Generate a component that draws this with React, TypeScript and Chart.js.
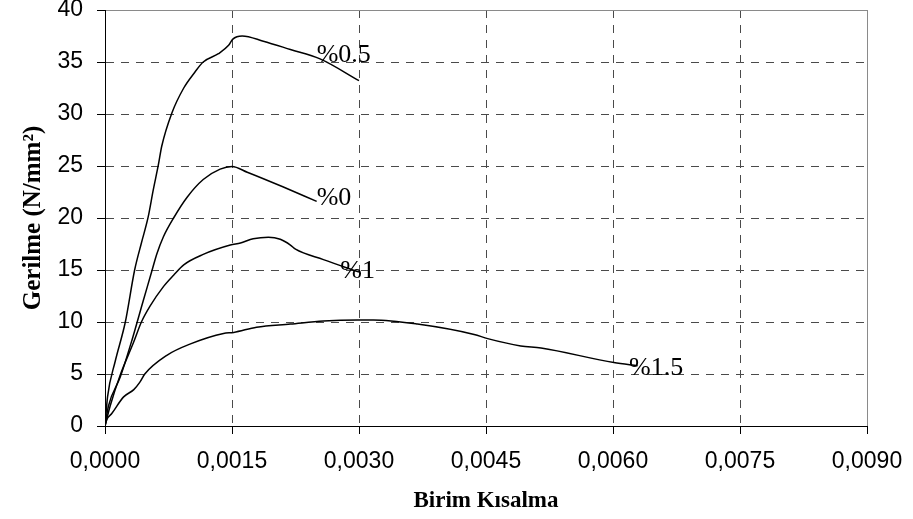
import React, { useEffect, useRef } from 'react';
import { Chart, registerables } from 'chart.js';

Chart.register(...registerables);

// Axis ticks
const xTickValues = [0, 0.0015, 0.003, 0.0045, 0.006, 0.0075, 0.009];
const xTickLabels = ['0,0000', '0,0015', '0,0030', '0,0045', '0,0060', '0,0075', '0,0090'];
const yTickValues = [0, 5, 10, 15, 20, 25, 30, 35, 40];
const yTickLabels = ['0', '5', '10', '15', '20', '25', '30', '35', '40'];

// Series: %0.5
const s05X = [0, 0.00003, 0.00012, 0.00024, 0.00035, 0.00043, 0.00051, 0.00057, 0.00063, 0.00067, 0.00079, 0.00093, 0.00105, 0.00116, 0.00134, 0.00146, 0.00151, 0.00162, 0.00187, 0.00219, 0.00254, 0.0030];
const s05Y = [0, 2.8, 6.2, 10.0, 15.0, 17.6, 20.1, 22.7, 25.1, 26.9, 30.1, 32.5, 33.9, 35.0, 35.8, 36.6, 37.2, 37.5, 37.0, 36.2, 35.3, 33.2];

// Series: %0
const s0X = [0, 0.00004, 0.00018, 0.00032, 0.00045, 0.00055, 0.00061, 0.00069, 0.00081, 0.00097, 0.00116, 0.00136, 0.0015, 0.00168, 0.0021, 0.0025];
const s0Y = [0, 1.9, 4.7, 8.3, 12.0, 14.8, 16.5, 18.2, 20.0, 22.0, 23.7, 24.7, 24.95, 24.4, 23.0, 21.6];

// Series: %1
const s1X = [0, 0.00006, 0.00018, 0.00034, 0.00043, 0.00053, 0.00069, 0.00081, 0.00093, 0.00116, 0.00148, 0.0016, 0.00175, 0.00193, 0.00207, 0.00219, 0.00225, 0.00258, 0.0030];
const s1Y = [0, 1.9, 4.9, 8.1, 10.0, 11.5, 13.4, 14.5, 15.5, 16.5, 17.4, 17.6, 18.0, 18.15, 17.95, 17.4, 17.0, 16.0, 14.8];

// Series: %1.5
const s15X = [0, 0.00002, 0.00008, 0.00022, 0.00034, 0.00041, 0.00047, 0.00073, 0.00101, 0.0014, 0.00152, 0.00179, 0.00219, 0.00258, 0.00298, 0.00317, 0.00369, 0.00436, 0.00452, 0.00491, 0.00515, 0.00601, 0.00629];
const s15Y = [0, 0.6, 1.2, 2.8, 3.5, 4.2, 5.0, 6.8, 7.9, 8.9, 9.0, 9.5, 9.8, 10.1, 10.2, 10.2, 9.8, 8.8, 8.4, 7.7, 7.5, 6.1, 5.8];

// Curve labels and where they sit (data units)
const seriesLabels = ['%0.5', '%0', '%1', '%1.5'];
const labelX = [0.0025, 0.0025, 0.00278, 0.00619];
const labelY = [35.0, 21.25, 14.2, 4.9];

const xTitle = 'Birim Kısalma';
const yTitle = 'Gerilme (N/mm²)';

const toPoints = (xs: number[], ys: number[]) => xs.map((x, i) => ({ x, y: ys[i] }));

const curveLabelPlugin = {
  id: 'curveLabels',
  afterDatasetsDraw(chart: any) {
    const { ctx, scales } = chart;
    ctx.save();
    ctx.font = '26px "Liberation Serif", "Times New Roman", serif';
    ctx.fillStyle = '#000';
    ctx.textAlign = 'left';
    ctx.textBaseline = 'alphabetic';
    seriesLabels.forEach((t, i) => {
      ctx.fillText(t, scales.x.getPixelForValue(labelX[i]), scales.y.getPixelForValue(labelY[i]));
    });
    ctx.restore();
  },
};

export default function App() {
  const ref = useRef<HTMLCanvasElement | null>(null);

  useEffect(() => {
    if (!ref.current) return;
    const mk = (xs: number[], ys: number[]) => ({
      data: toPoints(xs, ys),
      showLine: true,
      borderColor: '#000',
      borderWidth: 1.5,
      pointRadius: 0,
      cubicInterpolationMode: 'monotone' as const,
      fill: false,
    });
    const isEdgeX = (v: number) => Math.abs(v - 0.009) < 1e-9;
    const chart = new Chart(ref.current, {
      type: 'scatter',
      data: {
        datasets: [mk(s05X, s05Y), mk(s0X, s0Y), mk(s1X, s1Y), mk(s15X, s15Y)],
      },
      plugins: [curveLabelPlugin],
      options: {
        animation: false,
        responsive: false,
        events: [],
        layout: { padding: { left: 0, right: 46, top: 10, bottom: 0 } },
        plugins: { legend: { display: false }, tooltip: { enabled: false } },
        scales: {
          x: {
            type: 'linear',
            min: 0,
            max: 0.009,
            afterBuildTicks: (s: any) => {
              s.ticks = xTickValues.map((v) => ({ value: v }));
            },
            afterFit: (s: any) => {
              s.height = 93;
              s.paddingLeft = 0;
              s.paddingRight = 0;
              s.paddingTop = 0;
              s.paddingBottom = 0;
            },
            ticks: {
              autoSkip: false,
              maxRotation: 0,
              padding: 14,
              color: '#000',
              font: { family: '"Liberation Sans", Arial, sans-serif', size: 23 },
              callback: (_v: any, i: number) => xTickLabels[i],
            },
            grid: {
              color: (c: any) => (c.tick && isEdgeX(c.tick.value) ? '#8a8a8a' : '#4a4a4a'),
              lineWidth: 1,
              tickLength: 8,
              tickColor: '#000',
            },
            border: {
              display: true,
              color: '#000',
              width: 1,
              dash: (c: any) => (c.tick && isEdgeX(c.tick.value) ? [] : [8, 7]),
            },
            title: {
              display: true,
              text: xTitle,
              color: '#000',
              font: { family: '"Liberation Serif", "Times New Roman", serif', size: 23, weight: 'bold' },
              padding: { top: 0, bottom: 4 },
            },
          },
          y: {
            type: 'linear',
            min: 0,
            max: 40,
            afterBuildTicks: (s: any) => {
              s.ticks = yTickValues.map((v) => ({ value: v }));
            },
            afterFit: (s: any) => {
              s.width = 105;
              s.paddingLeft = 0;
              s.paddingRight = 0;
              s.paddingTop = 0;
              s.paddingBottom = 0;
            },
            ticks: {
              padding: 14,
              color: '#000',
              font: { family: '"Liberation Sans", Arial, sans-serif', size: 23, lineHeight: 0.8 },
              callback: (_v: any, i: number) => yTickLabels[i],
            },
            grid: {
              color: (c: any) => (c.tick && c.tick.value === 40 ? '#8a8a8a' : '#4a4a4a'),
              lineWidth: 1,
              tickLength: 8,
              tickColor: '#000',
            },
            border: {
              display: true,
              color: '#000',
              width: 1,
              dash: (c: any) => (c.tick && c.tick.value === 40 ? [] : [8, 7]),
            },
            title: {
              display: true,
              text: yTitle,
              color: '#000',
              font: { family: '"Liberation Serif", "Times New Roman", serif', size: 25, weight: 'bold' },
              padding: { top: 19, bottom: 0 },
            },
          },
        },
      } as any,
    });
    return () => chart.destroy();
  }, []);

  return (
    <div style={{ position: 'absolute', left: 0, top: 0, width: 913, height: 519, background: '#fff' }}>
      <canvas ref={ref} width={913} height={519} />
    </div>
  );
}
